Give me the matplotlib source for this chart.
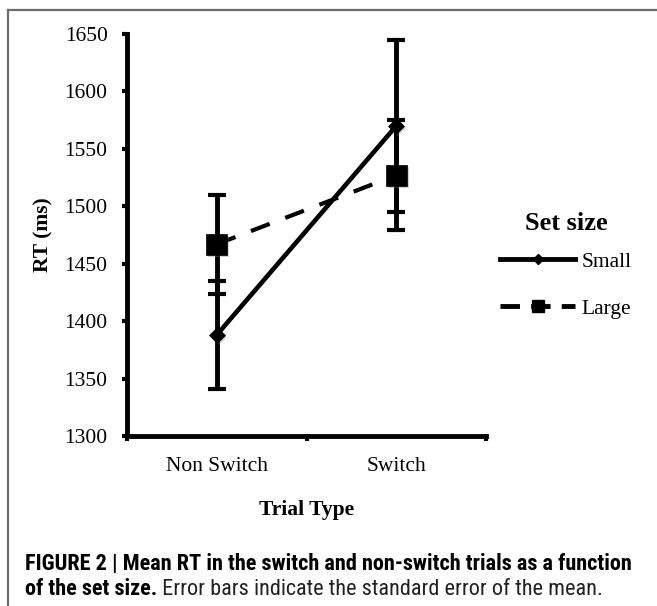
import matplotlib
matplotlib.use('Agg')
import matplotlib.pyplot as plt
from matplotlib.lines import Line2D
from matplotlib import font_manager
import matplotlib.patheffects as pe

# ---- data ----
categories = ['Non Switch', 'Switch']
small_mean = [1388, 1570]
small_se = [47, 75]
large_mean = [1467, 1527]
large_se = [43, 48]
yticks = [1300, 1350, 1400, 1450, 1500, 1550, 1600, 1650]
series_labels = ['Small', 'Large']
legend_title = 'Set size'
ylabel = 'RT (ms)'
xlabel = 'Trial Type'
caption_bold1 = 'FIGURE 2 | Mean RT in the switch and non-switch trials as a function'
caption_bold2 = 'of the set size.'
caption_reg2 = ' Error bars indicate the standard error of the mean.'

plt.rcParams['font.family'] = ['Liberation Serif', 'DejaVu Serif']

W, H = 657, 606
fig = plt.figure(figsize=(W / 100, H / 100), dpi=100)
ax = fig.add_axes([127 / W, 1 - 436 / H, (486 - 127) / W, (436 - 34) / H])

x = [0.5, 1.5]
LW = 3.5
shadow = [pe.SimplePatchShadow(offset=(1.5, -1.5), shadow_rgbFace='0.5', alpha=0.35), pe.Normal()]

# error bars
ax.errorbar(x, large_mean, yerr=large_se, fmt='none', ecolor='k', elinewidth=LW,
            capsize=6.4, capthick=3, zorder=3)
ax.errorbar(x, small_mean, yerr=small_se, fmt='none', ecolor='k', elinewidth=LW,
            capsize=6.4, capthick=3, zorder=3)
# lines
ax.plot(x, large_mean, color='k', lw=3, dashes=(4.8, 4.0), zorder=4)
ax.plot(x, small_mean, color='k', lw=3.3, solid_capstyle='butt', zorder=4)
# markers
ax.plot(x, large_mean, ls='none', marker='s', ms=15, mfc='k', mec='k', mew=0.5,
        zorder=5, path_effects=shadow)
ax.plot(x, small_mean, ls='none', marker='D', ms=8, mfc='k', mec='k', mew=0.5,
        zorder=5, path_effects=shadow)

ax.set_xlim(0, 2)
ax.set_ylim(1300, 1650)
for s in ['top', 'right']:
    ax.spines[s].set_visible(False)
for s in ['left', 'bottom']:
    ax.spines[s].set_linewidth(LW)
    ax.spines[s].set_capstyle('projecting')

ax.set_yticks(yticks)
ax.set_yticklabels([str(v) for v in yticks])
ax.set_xticks([0, 1, 2])
ax.set_xticklabels([])
ax.set_xticks(x, minor=True)
ax.set_xticklabels(categories, minor=True)
ax.tick_params(axis='y', which='major', length=3.5, width=3, pad=10.5, labelsize=15.5, direction='out')
ax.tick_params(axis='x', which='major', length=3.5, width=3, direction='out')
ax.tick_params(axis='x', which='minor', length=0, pad=15, labelsize=15.5)

ax.set_ylabel(ylabel, fontsize=15.5, fontweight='bold')
ax.yaxis.set_label_coords(-0.205, 0.5)
ax.set_xlabel(xlabel, fontsize=15.5, fontweight='bold')
ax.xaxis.set_label_coords(0.5, -0.16)

# legend
h_small = Line2D([], [], color='k', lw=3.5, marker='D', ms=5.5)
h_large = Line2D([], [], color='k', lw=3.5, dashes=(4.0, 2.3), marker='s', ms=9)
leg = fig.legend([h_small, h_large], series_labels, loc='upper left',
                 bbox_to_anchor=(500 / W, 1 - 212 / H), bbox_transform=fig.transFigure,
                 frameon=False, fontsize=15.5, handlelength=3.5, handletextpad=0.3,
                 labelspacing=1.25, borderpad=0, borderaxespad=0,
                 title=legend_title, title_fontproperties={'weight': 'bold', 'size': 19,
                                                           'family': 'Liberation Serif'})
leg._legend_box.sep = 12

# figure border (top and left)
fig.add_artist(Line2D([7.5 / W, 1], [1 - 9.5 / H, 1 - 9.5 / H], transform=fig.transFigure,
                      color='#6e6e6e', lw=1.6))
fig.add_artist(Line2D([7.5 / W, 7.5 / W], [0, 1 - 9.5 / H], transform=fig.transFigure,
                      color='#6e6e6e', lw=1.6))

# caption
names = {f.name for f in font_manager.fontManager.ttflist}
cap_font = 'Liberation Sans'
for cand in ['Liberation Sans Narrow', 'Roboto Condensed', 'Arial Narrow', 'Liberation Sans']:
    if cand in names:
        cap_font = cand
        break
cap_fam = [cap_font, 'DejaVu Sans']
renderer = fig.canvas.get_renderer()
probe = fig.text(0, 0, caption_bold1, fontsize=12, fontweight='bold', family=cap_fam)
wpx = probe.get_window_extent(renderer).width
probe.remove()
cap_size = 12 * 608 / wpx
x0 = 25 / W
fig.text(x0, 1 - 570 / H, caption_bold1, fontsize=cap_size, fontweight='bold', family=cap_fam,
         va='baseline', ha='left')
t2 = fig.text(x0, 1 - 595 / H, caption_bold2, fontsize=cap_size, fontweight='bold', family=cap_fam,
              va='baseline', ha='left')
w2 = t2.get_window_extent(renderer).width
fig.text(x0 + w2 / W, 1 - 595 / H, caption_reg2, fontsize=cap_size, fontweight='normal',
         family=cap_fam, va='baseline', ha='left', color='#222222')

fig.savefig('out.png', dpi=100)
